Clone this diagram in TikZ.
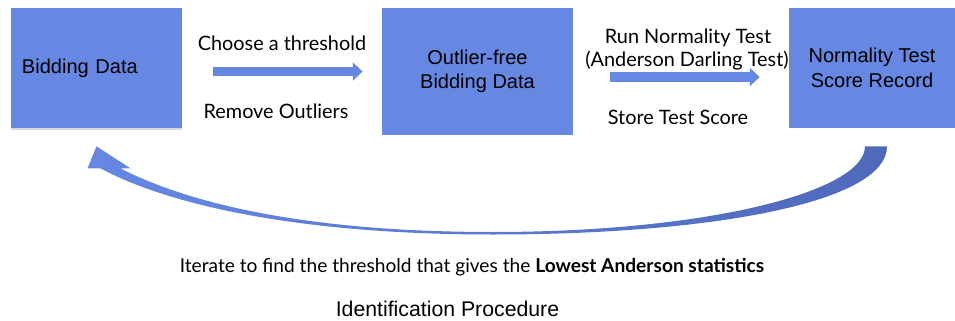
\documentclass[tikz,border=0pt]{standalone}
\usepackage{fontspec}
\setmainfont{Liberation Sans}
\newfontfamily\labelfont{Lato}
\usepackage[HTML]{xcolor}
\usetikzlibrary{arrows.meta, calc, shadows}

\definecolor{boxblue}{HTML}{6688E3}
\definecolor{loopdark}{HTML}{4F69BA}

\tikzset{
  stage/.style={fill=boxblue, minimum height=2.4cm, inner sep=0pt,
    align=center, font=\fontsize{11.4}{14}\selectfont},
  flow/.style={boxblue, line width=5.5pt, -{Triangle[length=5.5pt,width=10pt]}},
  steplabel/.style={font=\labelfont\fontsize{11.3}{13}\selectfont},
  loopfill/.style={left color=boxblue, right color=loopdark, draw=none},
}

\begin{document}
\begin{tikzpicture}
\useasboundingbox (0,0) rectangle (19.1,6.4);
% process boxes
\node[stage, minimum width=3.42cm, text width=2.98cm, inner xsep=0.22cm, align=left,
  drop shadow={shadow xshift=0cm, shadow yshift=-0.04cm, opacity=0.3}]
  (bid) at (1.93,5.04) {Bidding Data};
\node[stage, minimum width=3.82cm, minimum height=2.54cm] (clean) at (9.55,4.97) {Outlier-free\\Bidding Data};
\node[stage, minimum width=3.32cm] (record) at (17.44,5.04) {Normality Test\\Score Record};
% forward steps
\draw[flow, shorten <=0.62cm, shorten >=0.38cm] (bid.east |- clean) -- (clean.west);
\draw[flow, shorten <=0.74cm, shorten >=0.58cm] ([yshift=-0.11cm]clean.east) -- ([yshift=-0.11cm]clean.east -| record.west);
% labels on the steps
\node[steplabel] (choose) at (5.64,5.54) {Choose a threshold};
\node[steplabel] (remove) at (5.52,4.18) {Remove Outliers};
\node[steplabel] (runtest) at (13.76,5.64) {Run Normality Test};
\node[steplabel] (adtest) at (13.74,5.18) {(Anderson Darling Test)};
\node[steplabel] (store) at (13.56,4.06) {Store Test Score};
% loop back: tapered arrow from the record to the data
\coordinate (tip) at ([yshift=-0.36cm]bid.south);
\coordinate (tail) at ([xshift=0.08cm, yshift=-0.36cm]record.south);
\coordinate (loopbot) at (9.86,1.73);
\path[loopfill] (tip) -- ++(-0.18,-0.44) coordinate (hl) -- ++(0.26,0)
  .. controls +(1.3,-0.7) and +(-4,0) .. ([yshift=-0.02cm]loopbot)
  .. controls +(4.34,0) and +(0,-1.13) .. ([xshift=0.22cm]tail)
  -- ([xshift=-0.22cm]tail)
  .. controls +(0,-0.9) and +(4.3,0) .. ([yshift=0.03cm]loopbot)
  .. controls +(-4,0) and +(1.2,-0.62) .. ($(hl)+(0.66,0)$)
  -- ++(0.2,0) -- cycle;
% bottom text
\node[font=\labelfont\fontsize{10.9}{13}\selectfont] (iterate) at (9.44,1.06)
  {Iterate to find the threshold that gives the \textbf{Lowest Anderson statistics}};
\node[font=\fontsize{12.1}{14}\selectfont] (caption) at (8.95,0.22) {Identification Procedure};
\end{tikzpicture}
\end{document}
